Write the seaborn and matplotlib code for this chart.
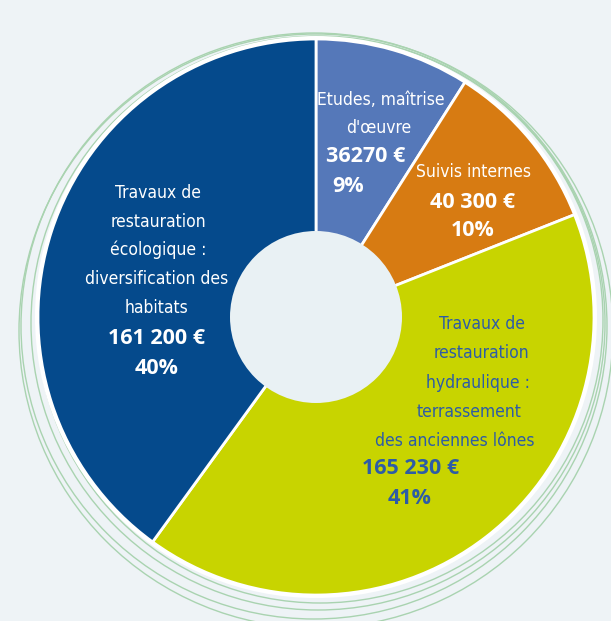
import matplotlib.pyplot as plt
from matplotlib.patches import Circle
import seaborn as sns

# budget breakdown (clockwise from the top)
categories = ["Etudes, maîtrise\nd'œuvre", "Suivis internes",
              "Travaux de\nrestauration\nhydraulique :\nterrassement\ndes anciennes lônes",
              "Travaux de\nrestauration\nécologique :\ndiversification des\nhabitats"]
amounts = [36270, 40300, 165230, 161200]
amount_labels = ["36270 €", "40 300 €", "165 230 €", "161 200 €"]
percent_labels = ["9%", "10%", "41%", "40%"]

sns.set_style("white")
bg = "#eef3f6"
colors = ["#5578b9", "#d77b12", "#c8d400", "#054a8c"]
text_colors = ["white", "white", "#2d5ca6", "white"]

fig = plt.figure(figsize=(6.11, 6.21), dpi=100, facecolor=bg)
ax = fig.add_axes([0, 0, 1, 1])
ax.set_facecolor(bg)

cx, cy, R = 316, 621 - 317, 278

# decorative green rings
for dx, dy, r in [(2, -6, 287), (-2, -9, 293), (4, -3, 283), (0, -14, 297)]:
    ax.add_patch(Circle((cx + dx, cy + dy), r, fill=False, ec="#a9d3b0", lw=1.0, zorder=0))
ax.add_patch(Circle((cx, cy), R + 3, fc="white", ec="none", zorder=1))

wedges, _ = ax.pie(amounts, colors=colors, startangle=90, counterclock=False,
                   center=(cx, cy), radius=R, frame=True,
                   wedgeprops=dict(edgecolor="white", linewidth=2))
for w in wedges:
    w.set_zorder(2)
ax.add_patch(Circle((cx, cy), 86, fc="#e9f1f4", ec="none", zorder=3))
ax.set_xlim(0, 611)
ax.set_ylim(0, 621)
ax.set_aspect("equal")
ax.axis("off")

narrow = dict(family="DejaVu Sans", stretch="condensed", fontsize=12.5)
boldf = dict(family=["Open Sans", "DejaVu Sans"], fontweight="bold", fontsize=15.5)

# label anchor positions (pixel centers of each text line)
name_pos = [
    [(381, 100), (379, 128)],
    [(473, 172)],
    [(482, 324), (481, 353), (478, 383), (469, 412), (455, 441)],
    [(158, 193), (158, 222), (158, 250), (157, 279), (157, 308)],
]
amount_pos = [(366, 157), (472, 202), (411, 469), (157, 339)]
pct_pos = [(348, 186), (473, 230), (410, 499), (157, 369)]

for i in range(len(amounts)):
    col = text_colors[i]
    for line, (x, y) in zip(categories[i].split("\n"), name_pos[i]):
        ax.text(x, 621 - y, line, ha="center", va="center", color=col, zorder=5, **narrow)
    x, y = amount_pos[i]
    ax.text(x, 621 - y, amount_labels[i], ha="center", va="center", color=col, zorder=5, **boldf)
    x, y = pct_pos[i]
    ax.text(x, 621 - y, percent_labels[i], ha="center", va="center", color=col, zorder=5, **boldf)

fig.savefig("out.png", dpi=100, facecolor=bg)
